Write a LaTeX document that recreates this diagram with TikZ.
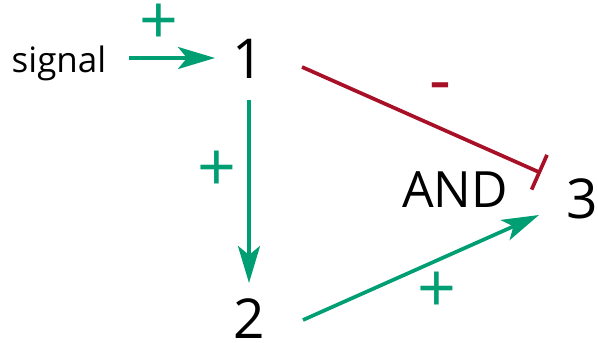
\documentclass[tikz,border=0pt]{standalone}
\usepackage{fontspec}
\setmainfont{Open Sans}
\usetikzlibrary{arrows.meta,calc}
\definecolor{actgreen}{RGB}{0,158,115}
\definecolor{inhred}{RGB}{168,16,40}

\begin{document}
\begin{tikzpicture}[x=1pt, y=-1pt,
    gene/.style={font=\fontsize{55}{55}\selectfont, inner sep=0pt},
    sign/.style={font=\fontsize{68}{68}\selectfont, inner sep=0pt},
    act/.style={-{Stealth[length=37pt,width=22pt,inset=9pt]}, actgreen, line width=3.7pt},
    inh/.style={-{Bar[width=38pt]}, inhred, line width=3.7pt}]
  \useasboundingbox (0,0) rectangle (598,343);
  %% Genes and input
  \node[font=\fontsize{35}{35}\selectfont, inner sep=0pt] (sig) at (59,63) {signal};
  \node[gene] (g1) at (248,59) {1};
  \node[gene] (g2) at (249,319) {2};
  \node[gene] (g3) at (582,199) {3};
  \node[font=\fontsize{50}{50}\selectfont, inner sep=0pt] (and) at (455,190) {AND};
  %% Interactions
  \draw[act] ($(sig)+(70,-5)$) -- ($(g1)+(-33,-1)$);
  \draw[act] ($(g1)+(1,41)$) -- ($(g2)+(0,-36)$);
  \draw[act] ($(g2)+(54,1)$) -- ($(g3)+(-43,16)$);
  \draw[inh] ($(g1)+(54,8)$) -- ($(g3)+(-41,-26)$);
  %% Signs
  \node[sign, actgreen] (p1) at (159,24) {+};
  \node[sign, actgreen] (p2) at (217,171) {+};
  \node[sign, actgreen] (p3) at (437,292) {+};
  \node[sign, inhred] (m1) at (440,93) {-};
\end{tikzpicture}
\end{document}
